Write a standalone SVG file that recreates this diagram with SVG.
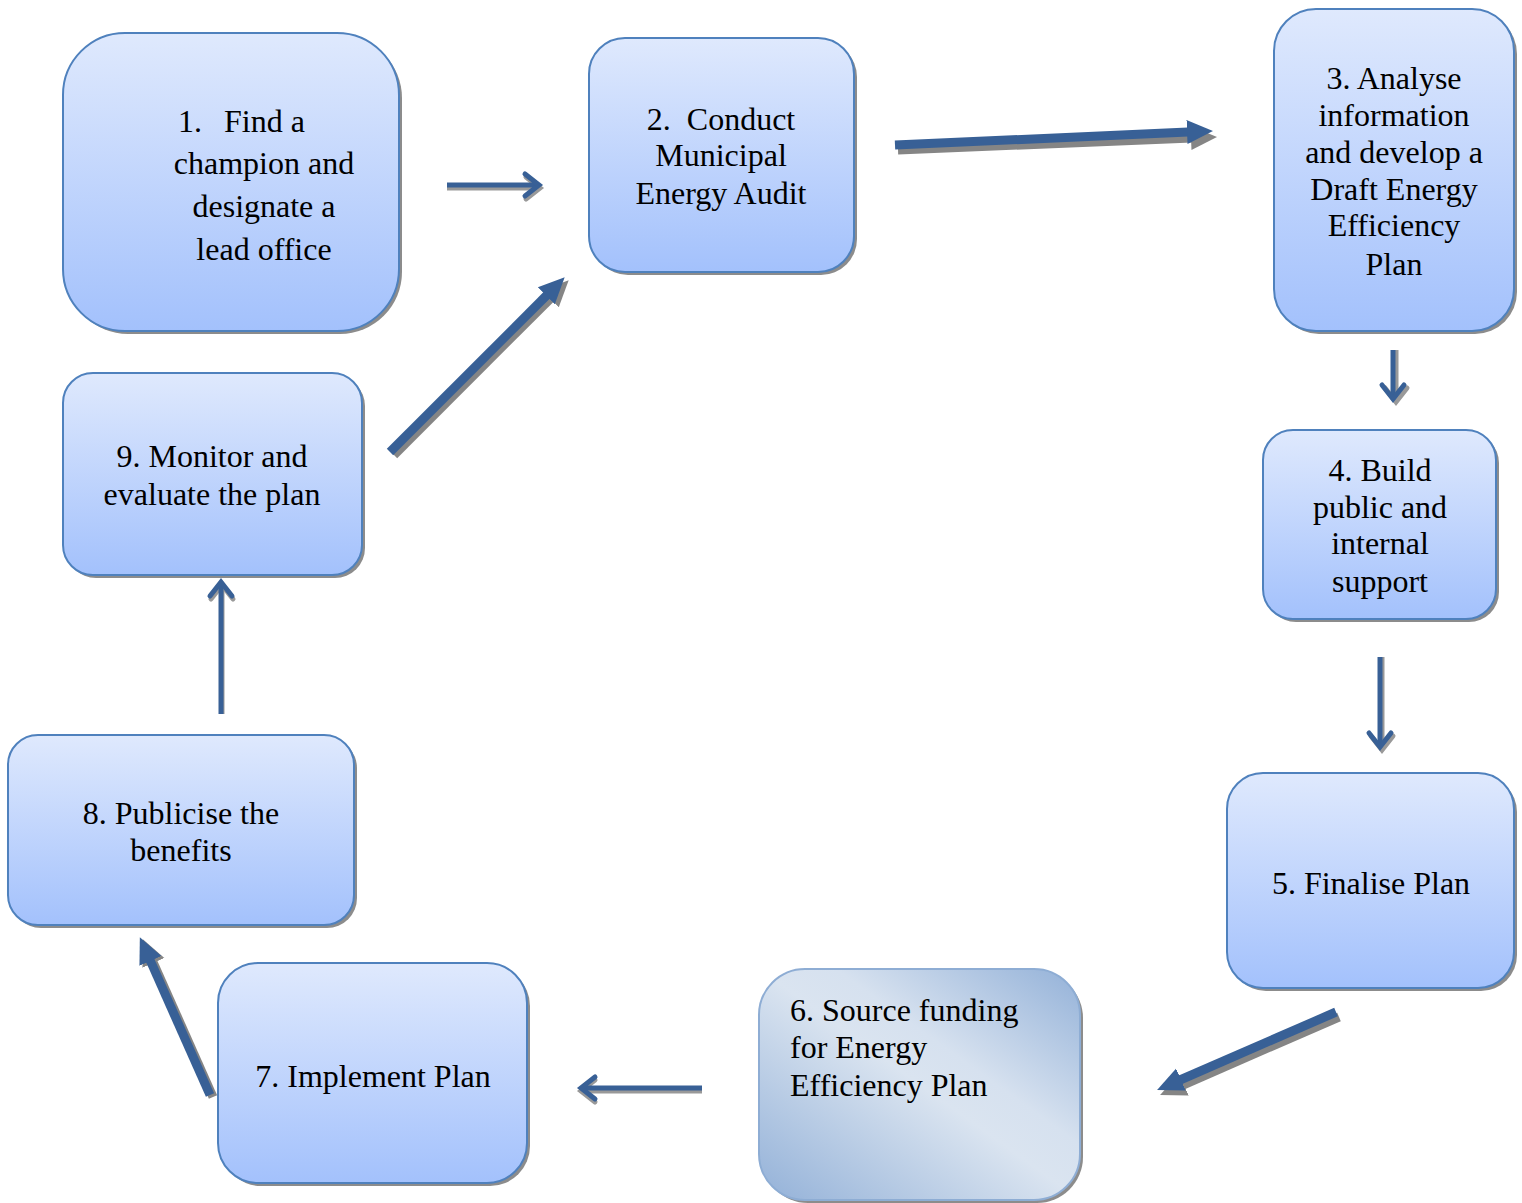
<svg xmlns="http://www.w3.org/2000/svg" width="1522" height="1203" viewBox="0 0 1522 1203">
<defs>
<linearGradient id="gBlue" x1="0" y1="0" x2="0" y2="1">
<stop offset="0" stop-color="#dfe9fd"/>
<stop offset="1" stop-color="#a3c1fc"/>
</linearGradient>
<linearGradient id="gSteel" x1="0" y1="1" x2="1" y2="0">
<stop offset="0" stop-color="#93b1d8"/>
<stop offset="0.5" stop-color="#dae4f0"/>
<stop offset="0.62" stop-color="#d6e1ef"/>
<stop offset="1" stop-color="#93b1d8"/>
</linearGradient>
<marker id="chevB" markerUnits="userSpaceOnUse" viewBox="-20 -15 26 30" markerWidth="26" markerHeight="30" refX="0" refY="0" orient="auto">
<path d="M-14,-11 L0,0 L-14,11" fill="none" stroke="#386096" stroke-width="5" stroke-linecap="round"/>
</marker>
<marker id="chevG" markerUnits="userSpaceOnUse" viewBox="-20 -15 26 30" markerWidth="26" markerHeight="30" refX="0" refY="0" orient="auto">
<path d="M-14,-11 L0,0 L-14,11" fill="none" stroke="#999999" stroke-width="5" stroke-linecap="round"/>
</marker>
<marker id="triB" markerUnits="userSpaceOnUse" viewBox="0 -14 28 28" markerWidth="28" markerHeight="28" refX="1" refY="0" orient="auto">
<path d="M0,-12 L26,0 L0,12 z" fill="#386096"/>
</marker>
<marker id="triG" markerUnits="userSpaceOnUse" viewBox="0 -14 28 28" markerWidth="28" markerHeight="28" refX="1" refY="0" orient="auto">
<path d="M0,-12 L26,0 L0,12 z" fill="#858585"/>
</marker>
</defs>
<style>
.box{fill:url(#gBlue);stroke:#4f81bd;stroke-width:2}
.box6{fill:url(#gSteel);stroke:#8eadd4;stroke-width:2}
.sh{fill:#8c8c8c}
text{font-family:"Liberation Serif","Times New Roman",serif;font-size:32px;fill:#000}
.c{text-anchor:middle}
.thinB{stroke:#386096;stroke-width:5;fill:none;marker-end:url(#chevB)}
.thinG{stroke:#999999;stroke-width:5;fill:none;marker-end:url(#chevG)}
.fatB{stroke:#386096;stroke-width:9;fill:none;marker-end:url(#triB)}
.fatG{stroke:#858585;stroke-width:9;fill:none;marker-end:url(#triG)}
</style>
<rect width="1522" height="1203" fill="#ffffff"/>

<g id="connectors">
<line class="thinG" x1="447" y1="188" x2="540" y2="188"/>
<line class="thinG" x1="1396" y1="350" x2="1396" y2="402"/>
<line class="thinG" x1="1382" y1="657" x2="1382" y2="750"/>
<line class="thinG" x1="702" y1="1091" x2="581" y2="1091"/>
<line class="thinG" x1="222" y1="714" x2="222" y2="585"/>
<line class="fatG" x1="898" y1="150" x2="1192" y2="138"/>
<line class="fatG" x1="1339" y1="1017" x2="1183" y2="1085"/>
<line class="fatG" x1="394" y1="455" x2="551" y2="298"/>
<line class="fatG" x1="213" y1="1097" x2="153" y2="962"/>
<line class="thinB" x1="447" y1="185" x2="539" y2="185"/>
<line class="thinB" x1="1393" y1="350" x2="1393" y2="399"/>
<line class="thinB" x1="1380" y1="657" x2="1380" y2="747"/>
<line class="thinB" x1="702" y1="1088" x2="581" y2="1088"/>
<line class="thinB" x1="221" y1="714" x2="221" y2="582"/>
<line class="fatB" x1="895" y1="145" x2="1188" y2="132"/>
<line class="fatB" x1="1336" y1="1012" x2="1180" y2="1080"/>
<line class="fatB" x1="390" y1="452" x2="547" y2="295"/>
<line class="fatB" x1="210" y1="1095" x2="150" y2="960"/>
</g>

<g id="node1">
<rect class="sh" x="66" y="36" width="336" height="298" rx="62"/>
<rect class="box" x="63" y="33" width="336" height="298" rx="62"/>
<text x="178" y="132">1.</text>
<text x="224" y="132">Find a</text>
<text class="c" x="264" y="174">champion and</text>
<text class="c" x="264" y="217">designate a</text>
<text class="c" x="264" y="260">lead office</text>
</g>

<g id="node2">
<rect class="sh" x="592" y="41" width="265" height="234" rx="36"/>
<rect class="box" x="589" y="38" width="265" height="234" rx="36"/>
<text class="c" x="721" y="130">2.&#160; Conduct</text>
<text class="c" x="721" y="166">Municipal</text>
<text class="c" x="721" y="204">Energy Audit</text>
</g>

<g id="node3">
<rect class="sh" x="1277" y="12" width="240" height="322" rx="42"/>
<rect class="box" x="1274" y="9" width="240" height="322" rx="42"/>
<text class="c" x="1394" y="89">3. Analyse</text>
<text class="c" x="1394" y="126">information</text>
<text class="c" x="1394" y="163">and develop a</text>
<text class="c" x="1394" y="200">Draft Energy</text>
<text class="c" x="1394" y="236">Efficiency</text>
<text class="c" x="1394" y="275">Plan</text>
</g>

<g id="node4">
<rect class="sh" x="1266" y="433" width="233" height="189" rx="30"/>
<rect class="box" x="1263" y="430" width="233" height="189" rx="30"/>
<text class="c" x="1380" y="481">4. Build</text>
<text class="c" x="1380" y="518">public and</text>
<text class="c" x="1380" y="554">internal</text>
<text class="c" x="1380" y="592">support</text>
</g>

<g id="node5">
<rect class="sh" x="1230" y="776" width="287" height="215" rx="36"/>
<rect class="box" x="1227" y="773" width="287" height="215" rx="36"/>
<text class="c" x="1371" y="894">5. Finalise Plan</text>
</g>

<g id="node6">
<rect class="sh" x="762" y="972" width="321" height="231" rx="46"/>
<rect class="box6" x="759" y="969" width="321" height="231" rx="46"/>
<text x="790" y="1021">6. Source funding</text>
<text x="790" y="1058">for Energy</text>
<text x="790" y="1096">Efficiency Plan</text>
</g>

<g id="node7">
<rect class="sh" x="221" y="966" width="309" height="220" rx="40"/>
<rect class="box" x="218" y="963" width="309" height="220" rx="40"/>
<text class="c" x="373" y="1087">7. Implement Plan</text>
</g>

<g id="node8">
<rect class="sh" x="11" y="738" width="346" height="190" rx="30"/>
<rect class="box" x="8" y="735" width="346" height="190" rx="30"/>
<text class="c" x="181" y="824">8. Publicise the</text>
<text class="c" x="181" y="861">benefits</text>
</g>

<g id="node9">
<rect class="sh" x="66" y="376" width="299" height="202" rx="30"/>
<rect class="box" x="63" y="373" width="299" height="202" rx="30"/>
<text class="c" x="212" y="467">9. Monitor and</text>
<text class="c" x="212" y="505">evaluate the plan</text>
</g>
</svg>
